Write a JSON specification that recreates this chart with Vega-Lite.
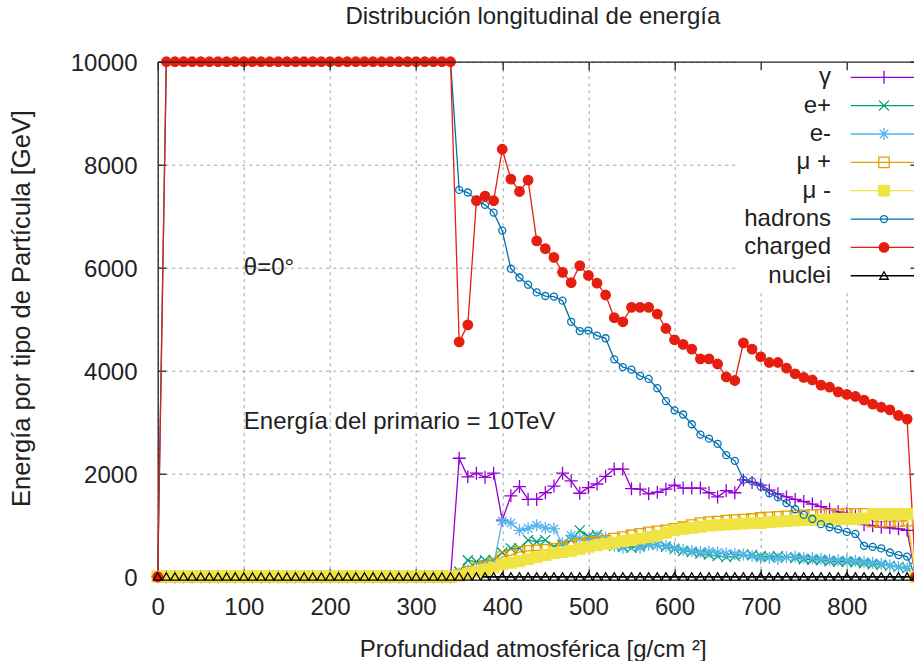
{
  "$schema": "https://vega.github.io/schema/vega-lite/v6.json",
  "width": 756.3,
  "height": 515,
  "autosize": {"type": "none"},
  "padding": {"left": 157.7, "top": 61.7, "right": 0, "bottom": 84.3},
  "background": "white",
  "config": {"view": {"stroke": null}, "font": "Liberation Sans"},
  "title": {
    "text": "Distribución longitudinal de energía",
    "frame": "group",
    "anchor": "middle",
    "orient": "top",
    "offset": 22.3,
    "baseline": "top",
    "dx": -3,
    "font": "Liberation Sans",
    "fontSize": 24,
    "fontWeight": "normal",
    "color": "#222"
  },
  "resolve": {"scale": {"color": "independent", "shape": "independent", "fill": "independent"}},
  "data": {
    "values": [
      {"x": 0, "γ": 0, "e+": 0, "e-": 0, "μ +": 0, "μ -": 0, "hadrons": 0, "charged": 0, "nuclei": 0},
      {"x": 10, "γ": 0, "e+": 0, "e-": 0, "μ +": 0, "μ -": 0, "hadrons": 10000, "charged": 10000, "nuclei": 0},
      {"x": 20, "γ": 0, "e+": 0, "e-": 0, "μ +": 0, "μ -": 0, "hadrons": 10000, "charged": 10000, "nuclei": 0},
      {"x": 30, "γ": 0, "e+": 0, "e-": 0, "μ +": 0, "μ -": 0, "hadrons": 10000, "charged": 10000, "nuclei": 0},
      {"x": 40, "γ": 0, "e+": 0, "e-": 0, "μ +": 0, "μ -": 0, "hadrons": 10000, "charged": 10000, "nuclei": 0},
      {"x": 50, "γ": 0, "e+": 0, "e-": 0, "μ +": 0, "μ -": 0, "hadrons": 10000, "charged": 10000, "nuclei": 0},
      {"x": 60, "γ": 0, "e+": 0, "e-": 0, "μ +": 0, "μ -": 0, "hadrons": 10000, "charged": 10000, "nuclei": 0},
      {"x": 70, "γ": 0, "e+": 0, "e-": 0, "μ +": 0, "μ -": 0, "hadrons": 10000, "charged": 10000, "nuclei": 0},
      {"x": 80, "γ": 0, "e+": 0, "e-": 0, "μ +": 0, "μ -": 0, "hadrons": 10000, "charged": 10000, "nuclei": 0},
      {"x": 90, "γ": 0, "e+": 0, "e-": 0, "μ +": 0, "μ -": 0, "hadrons": 10000, "charged": 10000, "nuclei": 0},
      {"x": 100, "γ": 0, "e+": 0, "e-": 0, "μ +": 0, "μ -": 0, "hadrons": 10000, "charged": 10000, "nuclei": 0},
      {"x": 110, "γ": 0, "e+": 0, "e-": 0, "μ +": 0, "μ -": 0, "hadrons": 10000, "charged": 10000, "nuclei": 0},
      {"x": 120, "γ": 0, "e+": 0, "e-": 0, "μ +": 0, "μ -": 0, "hadrons": 10000, "charged": 10000, "nuclei": 0},
      {"x": 130, "γ": 0, "e+": 0, "e-": 0, "μ +": 0, "μ -": 0, "hadrons": 10000, "charged": 10000, "nuclei": 0},
      {"x": 140, "γ": 0, "e+": 0, "e-": 0, "μ +": 0, "μ -": 0, "hadrons": 10000, "charged": 10000, "nuclei": 0},
      {"x": 150, "γ": 0, "e+": 0, "e-": 0, "μ +": 0, "μ -": 0, "hadrons": 10000, "charged": 10000, "nuclei": 0},
      {"x": 160, "γ": 0, "e+": 0, "e-": 0, "μ +": 0, "μ -": 0, "hadrons": 10000, "charged": 10000, "nuclei": 0},
      {"x": 170, "γ": 0, "e+": 0, "e-": 0, "μ +": 0, "μ -": 0, "hadrons": 10000, "charged": 10000, "nuclei": 0},
      {"x": 180, "γ": 0, "e+": 0, "e-": 0, "μ +": 0, "μ -": 0, "hadrons": 10000, "charged": 10000, "nuclei": 0},
      {"x": 190, "γ": 0, "e+": 0, "e-": 0, "μ +": 0, "μ -": 0, "hadrons": 10000, "charged": 10000, "nuclei": 0},
      {"x": 200, "γ": 0, "e+": 0, "e-": 0, "μ +": 0, "μ -": 0, "hadrons": 10000, "charged": 10000, "nuclei": 0},
      {"x": 210, "γ": 0, "e+": 0, "e-": 0, "μ +": 0, "μ -": 0, "hadrons": 10000, "charged": 10000, "nuclei": 0},
      {"x": 220, "γ": 0, "e+": 0, "e-": 0, "μ +": 0, "μ -": 0, "hadrons": 10000, "charged": 10000, "nuclei": 0},
      {"x": 230, "γ": 0, "e+": 0, "e-": 0, "μ +": 0, "μ -": 0, "hadrons": 10000, "charged": 10000, "nuclei": 0},
      {"x": 240, "γ": 0, "e+": 0, "e-": 0, "μ +": 0, "μ -": 0, "hadrons": 10000, "charged": 10000, "nuclei": 0},
      {"x": 250, "γ": 0, "e+": 0, "e-": 0, "μ +": 0, "μ -": 0, "hadrons": 10000, "charged": 10000, "nuclei": 0},
      {"x": 260, "γ": 0, "e+": 0, "e-": 0, "μ +": 0, "μ -": 0, "hadrons": 10000, "charged": 10000, "nuclei": 0},
      {"x": 270, "γ": 0, "e+": 0, "e-": 0, "μ +": 0, "μ -": 0, "hadrons": 10000, "charged": 10000, "nuclei": 0},
      {"x": 280, "γ": 0, "e+": 0, "e-": 0, "μ +": 0, "μ -": 0, "hadrons": 10000, "charged": 10000, "nuclei": 0},
      {"x": 290, "γ": 0, "e+": 0, "e-": 0, "μ +": 0, "μ -": 0, "hadrons": 10000, "charged": 10000, "nuclei": 0},
      {"x": 300, "γ": 0, "e+": 0, "e-": 0, "μ +": 0, "μ -": 0, "hadrons": 10000, "charged": 10000, "nuclei": 0},
      {"x": 310, "γ": 0, "e+": 0, "e-": 0, "μ +": 0, "μ -": 0, "hadrons": 10000, "charged": 10000, "nuclei": 0},
      {"x": 320, "γ": 0, "e+": 0, "e-": 0, "μ +": 0, "μ -": 0, "hadrons": 10000, "charged": 10000, "nuclei": 0},
      {"x": 330, "γ": 0, "e+": 0, "e-": 0, "μ +": 0, "μ -": 0, "hadrons": 10000, "charged": 10000, "nuclei": 0},
      {"x": 340, "γ": 0, "e+": 0, "e-": 0, "μ +": 0, "μ -": 0, "hadrons": 10000, "charged": 10000, "nuclei": 0},
      {"x": 350, "γ": 2300, "e+": 100, "e-": 60, "μ +": 30, "μ -": 20, "hadrons": 7510, "charged": 4560, "nuclei": 0},
      {"x": 360, "γ": 1940, "e+": 320, "e-": 120, "μ +": 100, "μ -": 50, "hadrons": 7460, "charged": 4890, "nuclei": 0},
      {"x": 370, "γ": 2010, "e+": 290, "e-": 150, "μ +": 160, "μ -": 90, "hadrons": 7320, "charged": 7300, "nuclei": 0},
      {"x": 380, "γ": 1930, "e+": 320, "e-": 200, "μ +": 200, "μ -": 130, "hadrons": 7220, "charged": 7390, "nuclei": 0},
      {"x": 390, "γ": 2010, "e+": 320, "e-": 230, "μ +": 260, "μ -": 180, "hadrons": 7070, "charged": 7300, "nuclei": 0},
      {"x": 400, "γ": 1100, "e+": 470, "e-": 1080, "μ +": 380, "μ -": 240, "hadrons": 6720, "charged": 8300, "nuclei": 0},
      {"x": 410, "γ": 1570, "e+": 550, "e-": 1040, "μ +": 420, "μ -": 270, "hadrons": 5980, "charged": 7720, "nuclei": 0},
      {"x": 420, "γ": 1750, "e+": 550, "e-": 900, "μ +": 480, "μ -": 300, "hadrons": 5810, "charged": 7480, "nuclei": 0},
      {"x": 430, "γ": 1500, "e+": 710, "e-": 940, "μ +": 500, "μ -": 340, "hadrons": 5670, "charged": 7700, "nuclei": 0},
      {"x": 440, "γ": 1500, "e+": 680, "e-": 1000, "μ +": 510, "μ -": 380, "hadrons": 5520, "charged": 6520, "nuclei": 0},
      {"x": 450, "γ": 1630, "e+": 710, "e-": 950, "μ +": 520, "μ -": 420, "hadrons": 5450, "charged": 6370, "nuclei": 0},
      {"x": 460, "γ": 1760, "e+": 580, "e-": 930, "μ +": 540, "μ -": 460, "hadrons": 5440, "charged": 6200, "nuclei": 0},
      {"x": 470, "γ": 2010, "e+": 620, "e-": 650, "μ +": 560, "μ -": 480, "hadrons": 5360, "charged": 5910, "nuclei": 0},
      {"x": 480, "γ": 1860, "e+": 710, "e-": 800, "μ +": 600, "μ -": 500, "hadrons": 4950, "charged": 5710, "nuclei": 0},
      {"x": 490, "γ": 1620, "e+": 900, "e-": 740, "μ +": 630, "μ -": 540, "hadrons": 4770, "charged": 6040, "nuclei": 0},
      {"x": 500, "γ": 1730, "e+": 780, "e-": 720, "μ +": 660, "μ -": 580, "hadrons": 4780, "charged": 5850, "nuclei": 0},
      {"x": 510, "γ": 1800, "e+": 810, "e-": 780, "μ +": 680, "μ -": 610, "hadrons": 4680, "charged": 5700, "nuclei": 0},
      {"x": 520, "γ": 1950, "e+": 650, "e-": 760, "μ +": 700, "μ -": 640, "hadrons": 4630, "charged": 5470, "nuclei": 0},
      {"x": 530, "γ": 2090, "e+": 600, "e-": 600, "μ +": 740, "μ -": 660, "hadrons": 4220, "charged": 5030, "nuclei": 0},
      {"x": 540, "γ": 2090, "e+": 580, "e-": 560, "μ +": 770, "μ -": 690, "hadrons": 4070, "charged": 4950, "nuclei": 0},
      {"x": 550, "γ": 1710, "e+": 560, "e-": 640, "μ +": 800, "μ -": 710, "hadrons": 4020, "charged": 5230, "nuclei": 0},
      {"x": 560, "γ": 1700, "e+": 600, "e-": 560, "μ +": 830, "μ -": 740, "hadrons": 3900, "charged": 5230, "nuclei": 0},
      {"x": 570, "γ": 1610, "e+": 640, "e-": 620, "μ +": 860, "μ -": 770, "hadrons": 3840, "charged": 5230, "nuclei": 0},
      {"x": 580, "γ": 1640, "e+": 620, "e-": 610, "μ +": 880, "μ -": 800, "hadrons": 3660, "charged": 5100, "nuclei": 0},
      {"x": 590, "γ": 1700, "e+": 580, "e-": 600, "μ +": 900, "μ -": 850, "hadrons": 3410, "charged": 4820, "nuclei": 0},
      {"x": 600, "γ": 1780, "e+": 540, "e-": 560, "μ +": 930, "μ -": 900, "hadrons": 3230, "charged": 4600, "nuclei": 0},
      {"x": 610, "γ": 1720, "e+": 500, "e-": 520, "μ +": 960, "μ -": 930, "hadrons": 3150, "charged": 4510, "nuclei": 0},
      {"x": 620, "γ": 1720, "e+": 480, "e-": 500, "μ +": 1000, "μ -": 950, "hadrons": 2960, "charged": 4420, "nuclei": 0},
      {"x": 630, "γ": 1720, "e+": 450, "e-": 480, "μ +": 1040, "μ -": 970, "hadrons": 2760, "charged": 4230, "nuclei": 0},
      {"x": 640, "γ": 1630, "e+": 430, "e-": 490, "μ +": 1060, "μ -": 990, "hadrons": 2680, "charged": 4230, "nuclei": 0},
      {"x": 650, "γ": 1550, "e+": 400, "e-": 470, "μ +": 1070, "μ -": 1000, "hadrons": 2580, "charged": 4130, "nuclei": 0},
      {"x": 660, "γ": 1670, "e+": 380, "e-": 450, "μ +": 1090, "μ -": 1010, "hadrons": 2360, "charged": 3880, "nuclei": 0},
      {"x": 670, "γ": 1630, "e+": 400, "e-": 440, "μ +": 1100, "μ -": 1020, "hadrons": 2250, "charged": 3810, "nuclei": 0},
      {"x": 680, "γ": 1880, "e+": 430, "e-": 430, "μ +": 1110, "μ -": 1030, "hadrons": 1880, "charged": 4540, "nuclei": 0},
      {"x": 690, "γ": 1830, "e+": 420, "e-": 400, "μ +": 1120, "μ -": 1040, "hadrons": 1850, "charged": 4420, "nuclei": 0},
      {"x": 700, "γ": 1780, "e+": 400, "e-": 360, "μ +": 1140, "μ -": 1040, "hadrons": 1750, "charged": 4270, "nuclei": 0},
      {"x": 710, "γ": 1680, "e+": 390, "e-": 370, "μ +": 1150, "μ -": 1060, "hadrons": 1620, "charged": 4160, "nuclei": 0},
      {"x": 720, "γ": 1610, "e+": 400, "e-": 350, "μ +": 1160, "μ -": 1070, "hadrons": 1540, "charged": 4160, "nuclei": 0},
      {"x": 730, "γ": 1550, "e+": 380, "e-": 380, "μ +": 1170, "μ -": 1080, "hadrons": 1430, "charged": 4050, "nuclei": 0},
      {"x": 740, "γ": 1500, "e+": 360, "e-": 390, "μ +": 1180, "μ -": 1090, "hadrons": 1310, "charged": 3940, "nuclei": 0},
      {"x": 750, "γ": 1460, "e+": 340, "e-": 370, "μ +": 1190, "μ -": 1100, "hadrons": 1200, "charged": 3870, "nuclei": 0},
      {"x": 760, "γ": 1410, "e+": 330, "e-": 360, "μ +": 1195, "μ -": 1100, "hadrons": 1120, "charged": 3820, "nuclei": 0},
      {"x": 770, "γ": 1360, "e+": 320, "e-": 350, "μ +": 1200, "μ -": 1110, "hadrons": 1020, "charged": 3720, "nuclei": 0},
      {"x": 780, "γ": 1310, "e+": 300, "e-": 330, "μ +": 1200, "μ -": 1110, "hadrons": 960, "charged": 3680, "nuclei": 0},
      {"x": 790, "γ": 1260, "e+": 290, "e-": 320, "μ +": 1210, "μ -": 1120, "hadrons": 920, "charged": 3590, "nuclei": 0},
      {"x": 800, "γ": 1230, "e+": 290, "e-": 320, "μ +": 1215, "μ -": 1120, "hadrons": 870, "charged": 3540, "nuclei": 0},
      {"x": 810, "γ": 1180, "e+": 280, "e-": 310, "μ +": 1220, "μ -": 1120, "hadrons": 830, "charged": 3500, "nuclei": 0},
      {"x": 820, "γ": 1010, "e+": 260, "e-": 290, "μ +": 1220, "μ -": 1130, "hadrons": 600, "charged": 3430, "nuclei": 0},
      {"x": 830, "γ": 990, "e+": 240, "e-": 270, "μ +": 1070, "μ -": 1220, "hadrons": 580, "charged": 3350, "nuclei": 0},
      {"x": 840, "γ": 960, "e+": 230, "e-": 250, "μ +": 1070, "μ -": 1220, "hadrons": 550, "charged": 3290, "nuclei": 0},
      {"x": 850, "γ": 950, "e+": 210, "e-": 220, "μ +": 1080, "μ -": 1220, "hadrons": 470, "charged": 3240, "nuclei": 0},
      {"x": 860, "γ": 930, "e+": 190, "e-": 190, "μ +": 1080, "μ -": 1220, "hadrons": 420, "charged": 3130, "nuclei": 0},
      {"x": 870, "γ": 900, "e+": 170, "e-": 160, "μ +": 1090, "μ -": 1220, "hadrons": 390, "charged": 3060, "nuclei": 0},
      {"x": 880, "γ": 0, "e+": 0, "e-": 0, "μ +": 0, "μ -": 0, "hadrons": 0, "charged": 0, "nuclei": 0}
    ]
  },
  "layer": [
    {
      "transform": [
        {"fold": ["γ", "e+", "e-", "μ +", "μ -", "hadrons", "charged", "nuclei"], "as": ["serie", "energia"]},
        {"filter": "datum.x === 0"}
      ],
      "mark": {"type": "point", "filled": false, "size": 100, "opacity": 0, "clip": false},
      "encoding": {
        "x": {"field": "x", "type": "quantitative", "scale": {"domain": [0, 878], "nice": false, "zero": false}, "axis": null},
        "y": {"field": "energia", "type": "quantitative", "scale": {"domain": [0, 10000], "nice": false}, "axis": null},
        "color": {
          "field": "serie", "type": "nominal",
          "scale": {
            "domain": ["γ", "e+", "e-", "μ +", "μ -", "hadrons", "charged", "nuclei"],
            "range": ["#9400d3", "#009e73", "#56b4e9", "#e69f00", "#f0e442", "#0072b2", "#e51e10", "#000000"]
          },
          "legend": {
            "orient": "none",
            "legendX": 579.3,
            "legendY": -1.4,
            "title": null,
            "direction": "vertical",
            "padding": 5,
            "rowPadding": 4.35,
            "fillColor": "white",
            "labelFont": "Liberation Sans",
            "labelFontSize": 24,
            "labelColor": "#222",
            "labelAlign": "right",
            "labelOffset": -65,
            "symbolOffset": 130,
            "symbolSize": 100,
            "symbolStrokeWidth": 1.3,
            "symbolOpacity": 1,
            "zindex": 1
          }
        },
        "shape": {
          "field": "serie", "type": "nominal",
          "scale": {
            "domain": ["γ", "e+", "e-", "μ +", "μ -", "hadrons", "charged", "nuclei"],
            "range": [
              "M-6.66,0H6.66M0,-1.3V1.3",
              "M-6.66,0H6.66M-1,-1L1,1M-1,1L1,-1",
              "M-6.66,0H6.66M0,-1.2V1.2M-0.85,-0.85L0.85,0.85M-0.85,0.85L0.85,-0.85",
              "M-6.66,0H6.66M-1.05,-1.05H1.05V1.05H-1.05Z",
              "M-6.66,0H6.66M-1.05,-1.05H1.05V1.05H-1.05Z",
              "M-6.66,0H6.66M0.7,0A0.7,0.7,0,1,1,-0.7,0A0.7,0.7,0,1,1,0.7,0Z",
              "M-6.66,0H6.66M0.95,0A0.95,0.95,0,1,1,-0.95,0A0.95,0.95,0,1,1,0.95,0Z",
              "M-6.66,0H6.66M0,-0.8L0.85,0.7H-0.85Z"
            ]
          }
        },
        "fill": {
          "field": "serie", "type": "nominal",
          "scale": {
            "domain": ["γ", "e+", "e-", "μ +", "μ -", "hadrons", "charged", "nuclei"],
            "range": ["transparent", "transparent", "transparent", "transparent", "#f0e442", "transparent", "#e51e10", "transparent"]
          }
        }
      }
    },
    {
      "transform": [{"fold": ["γ", "e+", "e-", "μ +", "μ -", "hadrons", "charged", "nuclei"], "as": ["serie", "energia"]}],
      "mark": {"type": "line", "strokeWidth": 1.3, "clip": false},
      "encoding": {
        "x": {
          "field": "x", "type": "quantitative",
          "scale": {"domain": [0, 878], "nice": false, "zero": false},
          "axis": {
            "orient": "bottom",
            "title": "Profundidad atmosférica [g/cm ²]",
            "values": [0, 100, 200, 300, 400, 500, 600, 700, 800],
            "format": "d",
            "grid": true, "gridColor": "#a0a0a0", "gridDash": [3, 4], "gridWidth": 1,
            "domain": true, "domainColor": "#222", "domainWidth": 1.3,
            "ticks": true, "tickSize": -8, "tickColor": "#222", "tickWidth": 1.3,
            "labelFont": "Liberation Sans", "labelFontSize": 24, "labelColor": "#222",
            "labelBaseline": "alphabetic", "labelPadding": 45.3, "labelFlush": false, "labelOverlap": false,
            "titleFont": "Liberation Sans", "titleFontSize": 24, "titleFontWeight": "normal", "titleColor": "#222",
            "titleX": 375, "titleY": 79.3, "titleBaseline": "alphabetic", "titleAlign": "center",
            "zindex": 0
          }
        },
        "y": {
          "field": "energia", "type": "quantitative",
          "scale": {"domain": [0, 10000], "nice": false},
          "axis": {
            "orient": "left",
            "title": "Energía por tipo de Partícula [GeV]",
            "values": [0, 2000, 4000, 6000, 8000, 10000],
            "format": "d",
            "grid": true, "gridColor": "#a0a0a0", "gridDash": [3, 4], "gridWidth": 1,
            "domain": true, "domainColor": "#222", "domainWidth": 1.3,
            "ticks": true, "tickSize": -8, "tickColor": "#222", "tickWidth": 1.3,
            "labelFont": "Liberation Sans", "labelFontSize": 24, "labelColor": "#222",
            "labelBaseline": "alphabetic", "labelOffset": 8.6, "labelPadding": 28.7, "labelAlign": "right",
            "labelFlush": false, "labelOverlap": false,
            "titleFont": "Liberation Sans", "titleFontSize": 25.5, "titleFontWeight": "normal", "titleColor": "#222",
            "titleAngle": 270, "titleX": -128.7, "titleY": 246.3, "titleBaseline": "alphabetic", "titleAlign": "center",
            "zindex": 0
          }
        },
        "color": {
          "field": "serie", "type": "nominal",
          "scale": {
            "domain": ["γ", "e+", "e-", "μ +", "μ -", "hadrons", "charged", "nuclei"],
            "range": ["#9400d3", "#009e73", "#56b4e9", "#e69f00", "#f0e442", "#0072b2", "#e51e10", "#000000"]
          },
          "legend": null
        }
      }
    },
    {
      "transform": [
        {"fold": ["γ", "e+", "e-", "μ +", "μ -", "hadrons", "charged", "nuclei"], "as": ["serie", "energia"]},
        {
          "lookup": "serie",
          "from": {
            "data": {
              "values": [
                {"serie": "γ", "orden": 1},
                {"serie": "e+", "orden": 2},
                {"serie": "e-", "orden": 3},
                {"serie": "μ +", "orden": 4},
                {"serie": "μ -", "orden": 5},
                {"serie": "hadrons", "orden": 6},
                {"serie": "charged", "orden": 7},
                {"serie": "nuclei", "orden": 8}
              ]
            },
            "key": "serie",
            "fields": ["orden"]
          }
        }
      ],
      "mark": {"type": "point", "filled": false, "size": 100, "strokeWidth": 1.3, "opacity": 1, "clip": false},
      "encoding": {
        "x": {
          "field": "x", "type": "quantitative",
          "scale": {"domain": [0, 878], "nice": false, "zero": false},
          "axis": {
            "orient": "top", "title": null,
            "values": [0, 100, 200, 300, 400, 500, 600, 700, 800],
            "labels": false, "grid": false,
            "ticks": true, "tickSize": -8, "tickColor": "#222", "tickWidth": 1.3,
            "domain": true, "domainColor": "#222", "domainWidth": 1.3,
            "zindex": 2
          }
        },
        "y": {
          "field": "energia", "type": "quantitative",
          "scale": {"domain": [0, 10000], "nice": false},
          "axis": {
            "orient": "right", "title": null,
            "values": [0, 2000, 4000, 6000, 8000, 10000],
            "labels": false, "grid": false,
            "ticks": true, "tickSize": -4, "tickColor": "#222", "tickWidth": 1.3,
            "domain": false,
            "zindex": 2
          }
        },
        "order": {"field": "orden", "type": "quantitative"},
        "color": {
          "field": "serie", "type": "nominal",
          "scale": {
            "domain": ["γ", "e+", "e-", "μ +", "μ -", "hadrons", "charged", "nuclei"],
            "range": ["#9400d3", "#009e73", "#56b4e9", "#e69f00", "#f0e442", "#0072b2", "#e51e10", "#000000"]
          },
          "legend": null
        },
        "shape": {
          "field": "serie", "type": "nominal",
          "scale": {
            "domain": ["nuclei", "charged", "hadrons", "μ -", "μ +", "e-", "e+", "γ"],
            "range": [
              "M0,-0.8L0.85,0.7H-0.85Z",
              "M0.95,0A0.95,0.95,0,1,1,-0.95,0A0.95,0.95,0,1,1,0.95,0Z",
              "M0.7,0A0.7,0.7,0,1,1,-0.7,0A0.7,0.7,0,1,1,0.7,0Z",
              "M-1.05,-1.05H1.05V1.05H-1.05Z",
              "M-1.05,-1.05H1.05V1.05H-1.05Z",
              "M-1.2,0H1.2M0,-1.2V1.2M-0.85,-0.85L0.85,0.85M-0.85,0.85L0.85,-0.85",
              "M-1,-1L1,1M-1,1L1,-1",
              "M-1.3,0H1.3M0,-1.3V1.3"
            ]
          },
          "legend": null
        },
        "fill": {
          "field": "serie", "type": "nominal",
          "scale": {
            "domain": ["nuclei", "charged", "hadrons", "μ -", "μ +", "e-", "e+", "γ"],
            "range": ["transparent", "#e51e10", "transparent", "#f0e442", "transparent", "transparent", "transparent", "transparent"]
          },
          "legend": null
        }
      }
    },
    {
      "data": {
        "values": [
          {"x": 100, "y": 6000, "t": "θ=0°"},
          {"x": 100, "y": 3000, "t": "Energía del primario = 10TeV"}
        ]
      },
      "mark": {"type": "text", "align": "left", "baseline": "middle", "font": "Liberation Sans", "fontSize": 24, "color": "#222"},
      "encoding": {
        "x": {"field": "x", "type": "quantitative", "scale": {"domain": [0, 878], "nice": false, "zero": false}, "axis": null},
        "y": {"field": "y", "type": "quantitative", "scale": {"domain": [0, 10000], "nice": false}, "axis": null},
        "text": {"field": "t"}
      }
    }
  ]
}
